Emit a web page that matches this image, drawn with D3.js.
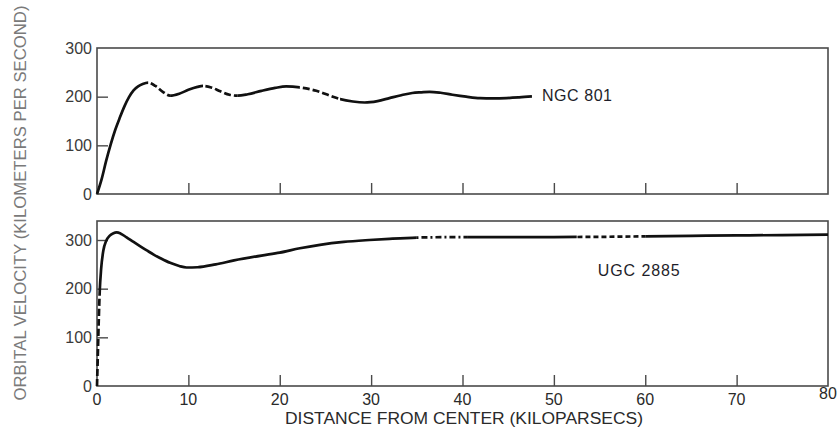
<!DOCTYPE html>
<html>
<head>
<meta charset="utf-8">
<script src="https://cdn.jsdelivr.net/npm/d3@7/dist/d3.min.js"></script>
<style>
  html, body { margin: 0; padding: 0; background: #fff; }
  svg { display: block; }
  text { font-family: "Liberation Sans", Arial, Helvetica, sans-serif; }
</style>
</head>
<body>
<svg id="chart" width="837" height="432"></svg>
<script>
// ---------- data ----------
const xTicks = [0, 10, 20, 30, 40, 50, 60, 70, 80];
const yTicksTop = [0, 100, 200, 300];
const yTicksBottom = [0, 100, 200, 300];

const ngcName = "NGC 801";
const ngcX = [0, 0.5, 1, 1.5, 2, 2.5, 3, 3.5, 4, 4.5, 5, 5.6, 6.4, 7.2, 8, 9, 10, 11, 11.6, 12.5, 13.5, 14.5, 15.4, 16.5, 18, 19.5, 20.7, 22.2, 24, 25.5, 26.6, 28, 29.3, 30.7, 32, 33.3, 34.5, 35.5, 36.4, 37.6, 38.9, 40.4, 41.9, 43.3, 44.8, 46.2, 47.6];
const ngcV = [0, 30, 68, 102, 132, 157, 180, 199, 213, 221, 226, 229, 222, 210, 202, 206, 214, 220, 222, 219, 211, 204, 202, 205, 212, 218, 221, 219, 212, 202, 195, 190, 188, 191, 197, 203, 207.5, 209, 210, 208, 204, 200, 197, 196.5, 197, 198.5, 200.5];
// segments: [x0, x1, dashed]
const ngcSegments = [[-1, 5.6, 0], [5.6, 8, 1], [8, 11.6, 0], [11.6, 15.4, 1], [15.4, 22.2, 0], [22.2, 26.6, 1], [26.6, 49, 0]];

const ugcName = "UGC 2885";
const ugcX = [0, 0.1, 0.2, 0.3, 0.45, 0.7, 1.0, 1.4, 1.8, 2.15, 2.6, 3.2, 4, 4.7, 5.5, 6.2, 6.9, 8, 9, 9.8, 11, 13, 15, 18, 20, 22.2, 24.4, 27, 29.8, 32, 35, 40, 45, 50, 55, 60, 65, 70, 75, 80];
const ugcV = [0, 70, 140, 195, 240, 279, 298, 309, 314, 315.5, 313, 306, 296, 287.5, 278, 270, 263, 253, 246.5, 243.5, 244, 250, 258, 268, 274, 283, 290, 296, 300, 302.5, 305, 306, 306, 306, 306.5, 307.5, 308.5, 309.5, 310, 311];
// segments: [x0, x1, v0, v1, dashPattern]
const ugcSegments = [
  [-1, 0.6, -20, 195, "dashA"],
  [-1, 35, 195, 400, null],
  [35, 40.5, -20, 400, "dashB"],
  [40.5, 52.5, -20, 400, null],
  [52.5, 60, -20, 400, "dashC"],
  [60, 81, -20, 400, null]
];

const xTitle = "DISTANCE FROM CENTER (KILOPARSECS)";
const yTitle = "ORBITAL VELOCITY (KILOMETERS PER SECOND)";

// ---------- layout ----------
const svg = d3.select("#chart");
const left = 97, right = 828;
const top1 = 48, bottom1 = 194;
const top2 = 221, bottom2 = 386;
const frameColor = "#4a4a4a";
const lineColor = "#111";
const dashes = { dashA: "7,3", dashB: "6,3,2,3", dashC: "5,3" };

const x = d3.scaleLinear().domain([0, 80]).range([left, right]);
const y1 = d3.scaleLinear().domain([0, 300]).range([bottom1, top1]);
const y2 = d3.scaleLinear().domain([0, 300]).range([bottom2, 240]);

const defs = svg.append("defs");

function panel(yScale, top, bottom, yTicks, showXLabels) {
  const g = svg.append("g");
  g.append("rect")
    .attr("x", left).attr("y", top)
    .attr("width", right - left).attr("height", bottom - top)
    .attr("fill", "none").attr("stroke", frameColor).attr("stroke-width", 1.6);
  const xAxis = d3.axisTop(x).tickValues(xTicks.filter(t => t > 0 && t < 80))
    .tickSize(11).tickFormat("");
  const gx = g.append("g").attr("transform", `translate(0,${bottom})`).call(xAxis);
  gx.select(".domain").remove();
  gx.selectAll("line").attr("stroke", frameColor).attr("stroke-width", 1.4);
  const yAxis = d3.axisRight(yScale).tickValues(yTicks.filter(t => yScale(t) > top + 2 && t > 0))
    .tickSize(11).tickFormat("");
  const gy = g.append("g").attr("transform", `translate(${left},0)`).call(yAxis);
  gy.select(".domain").remove();
  gy.selectAll("line").attr("stroke", frameColor).attr("stroke-width", 1.4);
  g.selectAll("text.ylab").data(yTicks).enter().append("text")
    .attr("class", "ylab")
    .attr("x", 92).attr("y", d => yScale(d))
    .attr("dy", "0.36em")
    .attr("text-anchor", "end")
    .attr("font-size", 16)
    .attr("fill", "#3a3a3a")
    .text(d => d);
  if (showXLabels) {
    g.selectAll("text.xlab").data(xTicks).enter().append("text")
      .attr("class", "xlab")
      .attr("x", d => x(d)).attr("y", d => d === 80 ? 399 : 405)
      .attr("text-anchor", "middle")
      .attr("font-size", 16)
      .attr("fill", "#2a2a2a")
      .text(d => d);
  }
  return g;
}

const p1 = panel(y1, top1, bottom1, yTicksTop, false);
const p2 = panel(y2, top2, bottom2, yTicksBottom, true);

function drawCurve(g, xs, vs, yScale, segs, id) {
  const pts = xs.map((d, i) => [d, vs[i]]);
  const line = d3.line().x(d => x(d[0])).y(d => yScale(d[1])).curve(d3.curveMonotoneX);
  const dStr = line(pts);
  segs.forEach((s, i) => {
    const cid = `${id}-clip-${i}`;
    const x0 = x(s[0]), x1 = x(s[1]);
    const yA = yScale(s[3]), yB = yScale(s[2]);
    defs.append("clipPath").attr("id", cid).append("rect")
      .attr("x", x0).attr("y", yA)
      .attr("width", x1 - x0).attr("height", yB - yA);
    const p = g.append("path")
      .attr("d", dStr)
      .attr("fill", "none")
      .attr("stroke", lineColor)
      .attr("stroke-width", 2.7)
      .attr("clip-path", `url(#${cid})`);
    if (s[4]) p.attr("stroke-dasharray", dashes[s[4]]);
  });
}

drawCurve(p1, ngcX, ngcV, y1,
  ngcSegments.map(s => [s[0], s[1], -50, 400, s[2] ? "dashA" : null]), "ngc");
drawCurve(p2, ugcX, ugcV, y2, ugcSegments, "ugc");

// curve labels
svg.append("text")
  .attr("x", x(48.7)).attr("y", y1(202))
  .attr("dy", "0.36em")
  .attr("font-size", 16).attr("textLength", 70)
  .attr("fill", "#1e1e2a")
  .text(ngcName);
svg.append("text")
  .attr("x", x(54.8)).attr("y", y2(238))
  .attr("dy", "0.36em")
  .attr("font-size", 16).attr("textLength", 82)
  .attr("fill", "#1e1e2a")
  .text(ugcName);

// axis titles
svg.append("text")
  .attr("x", 464).attr("y", 424)
  .attr("text-anchor", "middle")
  .attr("font-size", 16).attr("textLength", 358)
  .attr("lengthAdjust", "spacingAndGlyphs")
  .attr("fill", "#2a2a2a")
  .text(xTitle);
svg.append("text")
  .attr("transform", "translate(26,203) rotate(-90)")
  .attr("text-anchor", "middle")
  .attr("font-size", 16).attr("textLength", 395)
  .attr("lengthAdjust", "spacingAndGlyphs")
  .attr("fill", "#7a7a7a")
  .text(yTitle);
</script>
</body>
</html>
